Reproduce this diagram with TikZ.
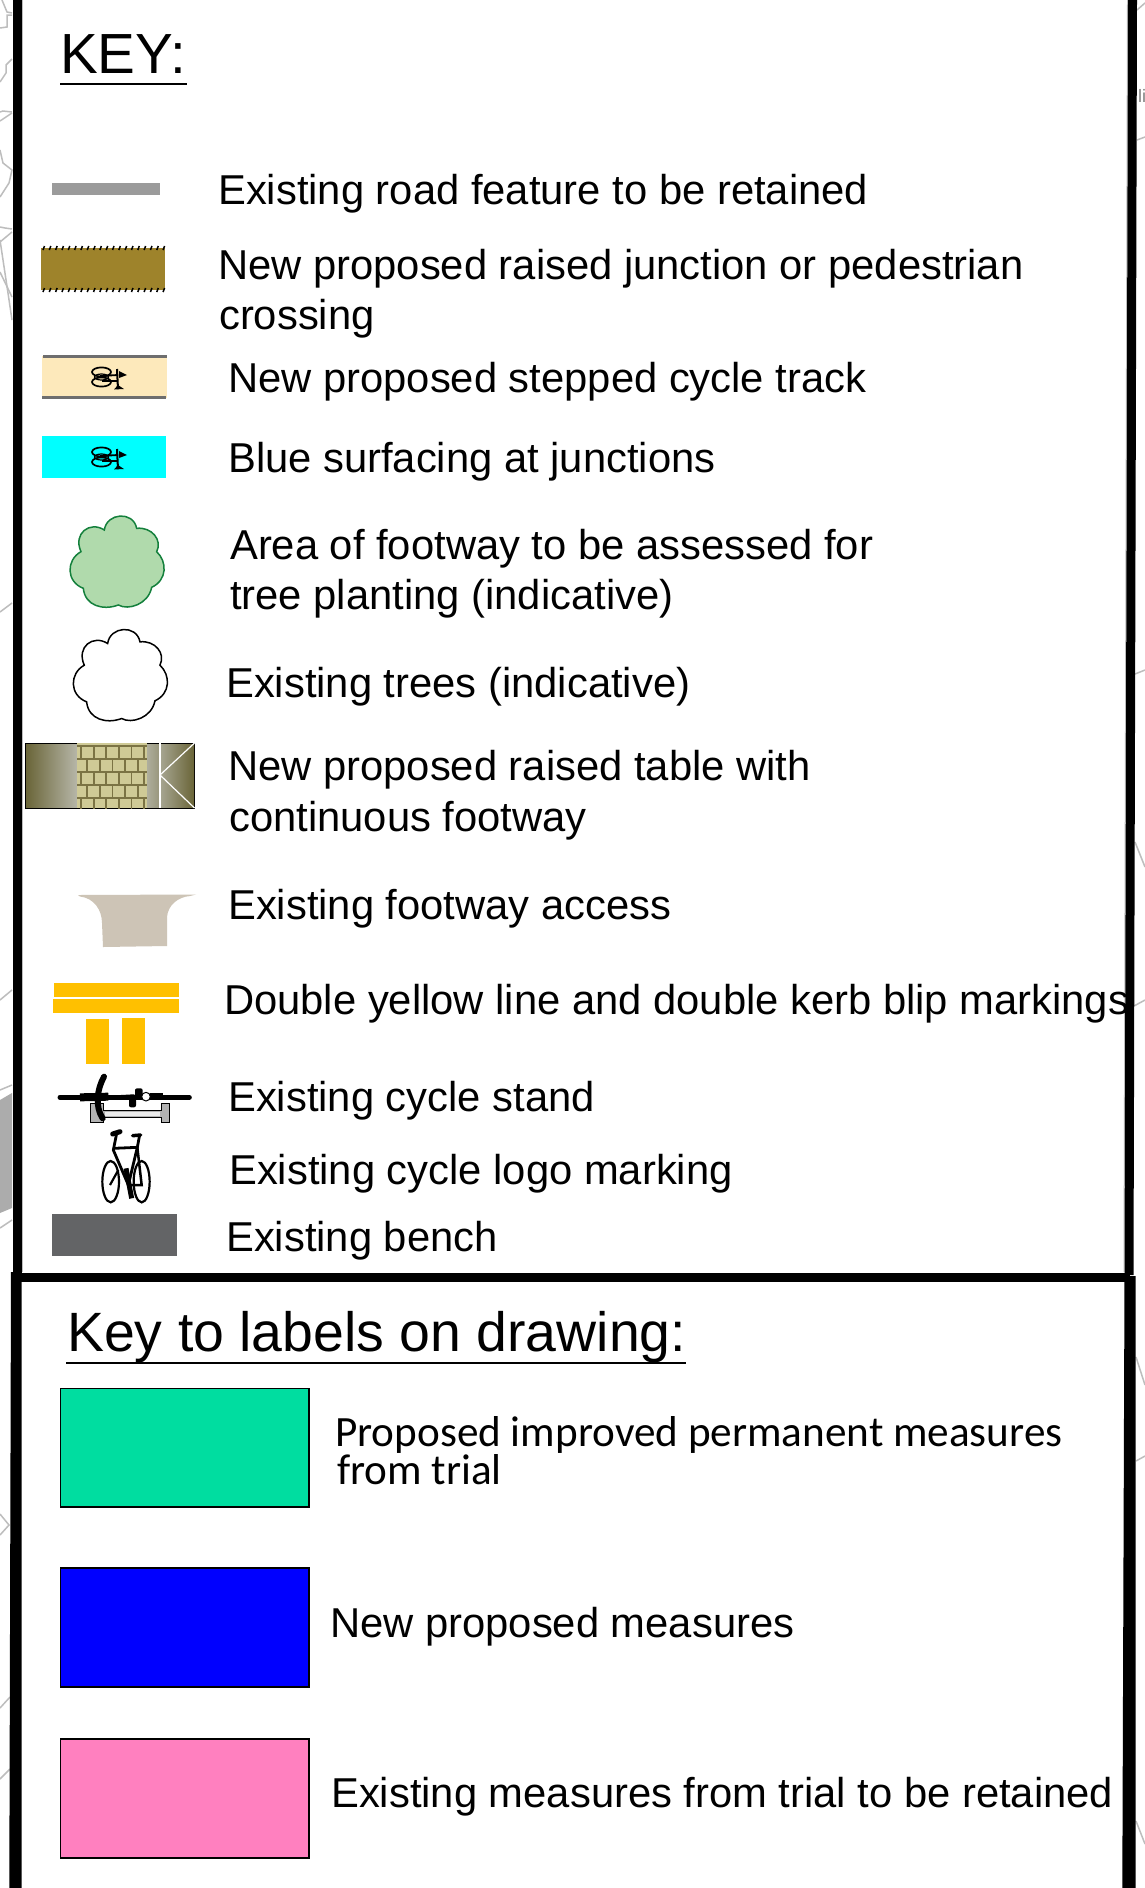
\documentclass[tikz,border=0pt]{standalone}
\usepackage{fontspec}
\setmainfont{Liberation Sans}
\newfontfamily\calib{Carlito}
\definecolor{mapgrey}{HTML}{BDBDBD}
\definecolor{roadgrey}{HTML}{9B9B9B}
\definecolor{rampbrown}{HTML}{9E832B}
\definecolor{trackcream}{HTML}{FDE9BB}
\definecolor{kerbgrey}{HTML}{6E6E6E}
\definecolor{junctioncyan}{HTML}{00FFFF}
\definecolor{treefill}{HTML}{B0DAAC}
\definecolor{treeedge}{HTML}{14803C}
\definecolor{oliveA}{HTML}{6A6538}
\definecolor{oliveB}{HTML}{B6B6A8}
\definecolor{brickfill}{HTML}{CFCA96}
\definecolor{brickline}{HTML}{7B7344}
\definecolor{footway}{HTML}{CDC4B6}
\definecolor{dyl}{HTML}{FFC000}
\definecolor{benchgrey}{HTML}{636466}
\definecolor{boxgreen}{HTML}{00DDA0}
\definecolor{boxblue}{HTML}{0000FF}
\definecolor{boxpink}{HTML}{FF80BF}
\tikzset{
  keytext/.style={anchor=base west,inner sep=0pt,font=\fontsize{41.75}{48}\selectfont},
  maplines/.style={draw=mapgrey,line width=1.5pt},
  border/.style={fill=black,draw=none},
  keybox/.style={draw=black,line width=1.5pt},
  underl/.style={draw=black,line width=1.5pt}
}
\newcommand{\treeshape}{(313,120) .. controls (320,68) and (400,62) .. (410,115)
  .. controls (455,110) and (488,150) .. (470,185)
  .. controls (502,215) and (502,270) .. (455,292)
  .. controls (445,343) and (385,362) .. (355,345)
  .. controls (310,362) and (255,348) .. (250,295)
  .. controls (198,275) and (198,210) .. (243,185)
  .. controls (218,130) and (270,92) .. (313,120) -- cycle}
\newcommand{\topbike}[1]{%
  \begin{scope}[shift={(0,#1)}]
    \draw[black,line width=1.7pt] (101.5,372) ellipse (9.5 and 4.6);
    \draw[black,line width=1.7pt] (101.5,382) ellipse (9.5 and 4.6);
    \draw[black,line width=1.2pt] (101.5,377) ellipse (7 and 3);
    \draw[black,line width=1.8pt] (100,376) -- (118,375);
    \draw[black,line width=1.8pt] (102,381) -- (118,381);
    \draw[black,line width=2pt] (117,369) -- (118,389);
    \fill[black] (119,371) -- (127,375) -- (119,378) -- cycle;
    \fill[black] (118,385) -- (124,389) -- (114,389.5) -- cycle;
  \end{scope}}
\begin{document}
\begin{tikzpicture}[x=1pt,y=-1pt]
\useasboundingbox (0,0) rectangle (1145,1888);
\fill[white] (0,0) rectangle (1145,1888);
% background map fragments
\fill[gray!65] (0,1100) -- (12,1093) -- (12,1208) -- (0,1213) -- cycle;
\draw[maplines] (12,15) -- (7,15) -- (7,27) -- (0,28);
\draw[maplines] (2,0) -- (7,12) -- (12,13);
\draw[maplines] (12,59) -- (6,65) -- (6,73) -- (0,82);
\draw[maplines] (0,112) -- (3,111) -- (12,112);
\draw[maplines] (0,121) -- (12,113);
\draw[maplines] (0,150) -- (3,163) -- (12,170) -- (9,183) -- (0,197);
\draw[maplines] (0,227) -- (5,228) -- (12,229);
\draw[maplines] (0,242) -- (12,232);
\draw[maplines] (0,240) -- (8,293) -- (12,320);
\draw[maplines] (0,272) -- (12,297);
\draw[maplines] (0,612) -- (12,603);
\draw[maplines] (0,1000) -- (12,990);
\draw[maplines] (0,1090) -- (12,1085);
\draw[maplines] (0,1228) -- (12,1220);
\draw[maplines] (0,1514) -- (9,1525) -- (0,1535);
\draw[maplines] (0,1708) -- (10,1697);
\draw[maplines] (0,1779) -- (10,1769);
\draw[maplines] (1137,10) -- (1145,3);
\draw[maplines] (1137,140) -- (1145,137);
\draw[maplines] (1135,674) -- (1145,670);
\draw[maplines] (1135,842) -- (1145,867);
\draw[maplines] (1134,1006) -- (1145,1000);
\draw[maplines] (1136,1357) -- (1145,1385);
\draw[maplines] (1136,1461) -- (1145,1456);
\draw[maplines] (1136,1821) -- (1145,1844);
\node[anchor=base west,inner sep=0pt,text=gray,font=\fontsize{18}{20}\selectfont] (mapli) at (1138,102) {li};
% frame
\draw[mapgrey,line width=1pt] (22,0) -- (22,1272);
\draw[mapgrey,line width=1pt] (1127.5,0) -- (1124,1272);
\fill[border] (12.5,0) rectangle (21.5,1274);
\fill[border] (1128,0) -- (1137,0) -- (1133.5,1275) -- (1124.5,1275) -- cycle;
\fill[border] (12,1273) rectangle (1130,1282);
\fill[border] (11,1272) -- (21.7,1272) -- (21.7,1888) -- (9.3,1888) -- cycle;
\fill[border] (1124.5,1276) -- (1135.7,1276) -- (1135.7,1888) -- (1122.3,1888) -- cycle;
% titles
\node[anchor=base west,inner sep=0pt,font=\fontsize{56.6}{60}\selectfont] (keytitle) at (60,73) {KEY:};
\draw[underl] (60,84) -- (187,84);
\node[anchor=base west,inner sep=0pt,font=\fontsize{55.4}{60}\selectfont] (labtitle) at (67,1351) {Key to labels on drawing:};
\draw[underl] (66,1363) -- (686,1363);
% road feature
\fill[roadgrey] (52,183) rectangle (160,195);
% raised junction
\fill[rampbrown] (41,248) rectangle (165,290);
\foreach \i in {0,...,19}{
  \draw[black,line width=1.5pt] ({43+6.32*\i},250) -- ({44.5+6.32*\i},246);
  \draw[black,line width=1.5pt] ({43+6.32*\i},292) -- ({44.5+6.32*\i},288);
}
% stepped track
\fill[trackcream] (42,356) rectangle (167,398);
\draw[kerbgrey,line width=3pt] (43,356) -- (167,356);
\draw[kerbgrey,line width=3pt] (42,397) -- (166,397);
\topbike{0}
% blue surfacing
\fill[junctioncyan] (42,436) rectangle (166,478);
\topbike{80}
% trees
\begin{scope}[shift={(0,490)},x=0.33333pt,y=-0.33333pt]
  \filldraw[fill=treefill,draw=treeedge,line width=1.5pt] \treeshape;
\end{scope}
\begin{scope}[shift={(3.3,603.5)},x=0.33333pt,y=-0.33333pt]
  \filldraw[fill=white,draw=black,line width=1.5pt] \treeshape;
\end{scope}
% raised table
\fill[black] (24.5,742.5) rectangle (195,808.5);
\shade[left color=oliveA,right color=oliveB] (26,744) rectangle (77,807);
\shade[left color=oliveB!90!oliveA,right color=oliveB!60!oliveA] (147,744) rectangle (160,807);
\shade[left color=oliveB!80!oliveA,right color=oliveA] (160,744) rectangle (194,807);
\begin{scope}
  \clip (77,743) rectangle (147,808);
  \fill[brickfill] (77,743) rectangle (147,808);
  \foreach \r in {0,...,4}{
    \draw[brickline,line width=1.8pt] (77,{746+13*\r}) -- (147,{746+13*\r});
    \pgfmathsetmacro{\off}{mod(\r,2)*6.3}
    \foreach \c in {-1,...,6}{
      \draw[brickline,line width=1.8pt] ({81+\off+12.6*\c},{746+13*\r}) -- ({81+\off+12.6*\c},{759+13*\r});
    }
  }
\end{scope}
\draw[white,line width=1.2pt] (160,743) -- (160,808);
\draw[white,line width=1.2pt] (194.5,743) -- (160,775) -- (194.5,808);
% footway access
\fill[footway] (78,895) -- (80,896.5) .. controls (94,898) and (102,910) .. (102,923) -- (103,947) -- (167,946) -- (167,917) .. controls (168,905) and (178,897) .. (190,896) -- (196,894.5) -- cycle;
% yellow lines
\fill[dyl] (54,983) rectangle (179,997);
\fill[dyl] (53,999) rectangle (178.5,1013);
\fill[dyl] (86,1019) rectangle (109,1064);
\fill[dyl] (122,1018) rectangle (145,1064);
% cycle stand
\begin{scope}[shift={(50,1070)},x=0.33333pt,y=-0.33333pt]
  \filldraw[fill=gray!60,draw=black,line width=1pt] (120,100) -- (160,100) -- (160,122) -- (335,122) -- (335,100) -- (358,100) -- (358,158) -- (335,158) -- (335,142) -- (160,142) -- (160,158) -- (120,158) -- cycle;
  \fill[white!85!gray] (165,127) rectangle (330,137);
  \draw[black,line width=5pt,line cap=round] (30,82) -- (418,82);
  \draw[black,line width=8pt] (90,82) -- (175,80);
  \draw[black,line width=7pt] (300,78) -- (340,78);
  \draw[black,line width=2pt] (175,80) -- (250,76) -- (285,88);
  \draw[black,line width=6pt,line cap=round] (162,20) .. controls (140,60) and (135,110) .. (158,145);
  \fill[black,rounded corners=2pt] (255,55) rectangle (278,80);
  \fill[black,rounded corners=2pt] (237,85) rectangle (258,112);
  \filldraw[fill=white,draw=black,line width=1pt] (288,80) circle (13);
\end{scope}
% cycle logo
\begin{scope}[shift={(50,1070)},x=0.33333pt,y=-0.33333pt]
  \draw[black,line width=2.2pt] (182,335) ellipse (25 and 62);
  \draw[black,line width=2.2pt] (275,335) ellipse (24 and 62);
  \draw[black,line width=2.8pt] (200,190) -- (190,240) -- (235,345) -- (262,232) -- (268,200);
  \draw[black,line width=2.8pt] (190,235) -- (262,232);
  \draw[black,line width=2.5pt] (262,232) -- (275,345) -- (235,345);
  \draw[black,line width=2.2pt] (205,300) -- (180,345);
  \draw[black,line width=5pt] (228,295) -- (245,385);
  \draw[black,line width=5pt,line cap=round] (188,192) -- (210,185);
  \draw[black,line width=3.5pt,line cap=round] (248,197) -- (272,195);
\end{scope}
% bench
\fill[benchgrey] (52,1214) rectangle (177,1256);
% key boxes
\filldraw[keybox,fill=boxgreen] (60.5,1388.5) rectangle (309,1507);
\filldraw[keybox,fill=boxblue] (60.5,1568) rectangle (309,1687);
\filldraw[keybox,fill=boxpink] (60.5,1739) rectangle (309,1858);
% key text
\node[keytext] (t1) at (218,204) {Existing road feature to be retained};
\node[keytext] (t2a) at (218,279) {New proposed raised junction or pedestrian};
\node[keytext] (t2b) at (219,329) {crossing};
\node[keytext] (t3) at (228,392) {New proposed stepped cycle track};
\node[keytext] (t4) at (228,472) {Blue surfacing at junctions};
\node[keytext] (t5a) at (230,559) {Area of footway to be assessed for};
\node[keytext] (t5b) at (230,609) {tree planting (indicative)};
\node[keytext] (t6) at (226,697) {Existing trees (indicative)};
\node[keytext] (t7a) at (228,780) {New proposed raised table with};
\node[keytext] (t7b) at (229,831) {continuous footway};
\node[keytext] (t8) at (228,919) {Existing footway access};
\node[keytext] (t9) at (224,1014) {Double yellow line and double kerb blip markings};
\node[keytext] (t10) at (228,1111) {Existing cycle stand};
\node[keytext] (t11) at (229,1184) {Existing cycle logo marking};
\node[keytext] (t12) at (226,1251) {Existing bench};
\node[anchor=base west,inner sep=0pt,align=left,font=\calib\fontsize{43.2}{33.5}\selectfont] (l1) at (335,1484) {Proposed improved permanent measures\\\hspace*{2pt}from trial};
\node[keytext] (l2) at (330,1637) {New proposed measures};
\node[keytext] (l3) at (331,1807) {Existing measures from trial to be retained};
\end{tikzpicture}
\end{document}
